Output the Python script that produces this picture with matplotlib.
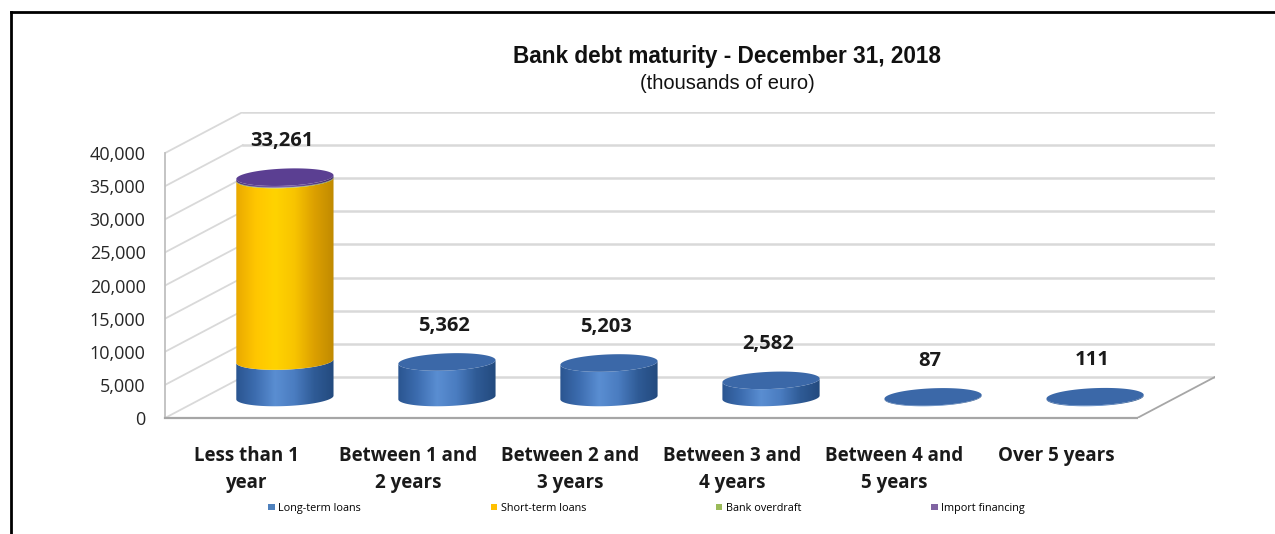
import numpy as np
import matplotlib.pyplot as plt
from matplotlib.patches import Polygon, Patch
from matplotlib.colors import LinearSegmentedColormap
from matplotlib.lines import Line2D

plt.rcParams['font.family'] = ['Open Sans', 'DejaVu Sans']

categories = ['Less than 1\nyear', 'Between 1 and\n2 years', 'Between 2 and\n3 years',
              'Between 3 and\n4 years', 'Between 4 and\n5 years', 'Over 5 years']
series_names = ['Long-term loans', 'Short-term loans', 'Bank overdraft', 'Import financing']
long_term = [5500, 5362, 5203, 2582, 87, 111]
short_term = [27411, 0, 0, 0, 0, 0]
overdraft = [100, 0, 0, 0, 0, 0]
import_fin = [250, 0, 0, 0, 0, 0]
yticks = [0, 5000, 10000, 15000, 20000, 25000, 30000, 35000, 40000]

# oblique "3d" look: floor depth in axis units, cylinder radius / ellipse size
DX, DY = 0.48, 6200
A, B, TILT = 0.30, 1300, 280

legend_cols = ['#4f81bd', '#ffc000', '#9bbb59', '#8064a2']
cmaps = [
    LinearSegmentedColormap.from_list('blue', ['#2a5590', '#3d6db0', '#5a8ed2', '#4a7cc0', '#2f5b96', '#234a7e']),
    LinearSegmentedColormap.from_list('yellow', ['#e9a900', '#ffc600', '#ffd300', '#f8c400', '#dca000', '#c08a00']),
    LinearSegmentedColormap.from_list('green', ['#7d9c3d', '#9bbb59', '#b3cf6f', '#8cab4b', '#6c8832']),
    LinearSegmentedColormap.from_list('purple', ['#4b3673', '#6a50a0', '#7d62b0', '#5d438c', '#412e66']),
]
cap_cols = ['#3b68a8', '#ffcc00', '#9bbb59', '#5b3f92']


def ellipse_pts(cx, cy, t):
    return np.column_stack([cx + A * np.cos(t), cy + B * np.sin(t) + TILT * np.cos(t)])


def draw_segment(ax, cx, y0, y1, cmap, z):
    t = np.linspace(np.pi, 2 * np.pi, 80)
    body = np.vstack([ellipse_pts(cx, y0, t), ellipse_pts(cx, y1, t[::-1])])
    poly = Polygon(body, closed=True, facecolor='none', edgecolor='none', zorder=z)
    ax.add_patch(poly)
    grad = np.linspace(0, 1, 256).reshape(1, -1)
    im = ax.imshow(grad, cmap=cmap, aspect='auto', interpolation='bicubic', zorder=z,
                   extent=(cx - A, cx + A, y0 - B - TILT, y1 + B + TILT))
    im.set_clip_path(poly)


fig = plt.figure(figsize=(12.75, 5.34), dpi=100)
ax = fig.add_axes([165 / 1275, 1 - 418 / 534, 1050 / 1275, 306 / 534])

# walls and floor
for v in yticks:
    ax.plot([-0.5 + DX, 5.5 + DX], [v + DY, v + DY], color='#d9d9d9', lw=1.8, zorder=1)
    ax.plot([-0.5, -0.5 + DX], [v, v + DY], color='#d9d9d9', lw=1.3, zorder=1)
ax.plot([5.5, 5.5 + DX], [0, DY], color='#a6a6a6', lw=1.3, zorder=1)

stack = [long_term, short_term, overdraft, import_fin]
for i in range(len(categories)):
    cx = i + DX / 2
    base = DY / 2
    top_series = 0
    for s, vals in enumerate(stack):
        if vals[i] <= 0:
            continue
        draw_segment(ax, cx, base, base + vals[i], cmaps[s], 3)
        base += vals[i]
        top_series = s
    cap = Polygon(ellipse_pts(cx, base, np.linspace(0, 2 * np.pi, 120)), closed=True,
                  facecolor=cap_cols[top_series], edgecolor='none', zorder=4)
    ax.add_patch(cap)
    total = sum(v[i] for v in stack)
    ax.annotate(f'{total:,}', (cx - 0.02, base + B), xytext=(0, 20), textcoords='offset points',
                ha='center', va='center', fontsize=14.5, fontweight='bold', color='#1a1a1a')

ax.set_xlim(-0.5, 5.5 + DX)
ax.set_ylim(0, 40000 + DY)
ax.set_yticks(yticks)
ax.set_yticklabels([f'{v:,}' for v in yticks])
ax.set_xticks(range(len(categories)))
ax.set_xticklabels(categories, fontweight='bold', linespacing=1.45)
ax.tick_params(axis='y', length=0, pad=14, labelsize=13, labelcolor='#262626')
ax.tick_params(axis='x', length=0, pad=20, labelsize=13.5, labelcolor='#1a1a1a')
for side in ['top', 'right']:
    ax.spines[side].set_visible(False)
ax.spines['left'].set_bounds(0, 40000)
ax.spines['left'].set_color('#bfbfbf')
ax.spines['left'].set_linewidth(1.3)
ax.spines['bottom'].set_bounds(-0.5, 5.5)
ax.spines['bottom'].set_color('#a6a6a6')
ax.spines['bottom'].set_linewidth(1.6)
ax.patch.set_alpha(0)

fig.text(727 / 1275, 1 - 57 / 534, 'Bank debt maturity - December 31, 2018', ha='center', va='center',
         family='Liberation Sans', fontweight='bold', fontsize=16.3, color='#111111')
fig.text(727 / 1275, 1 - 84 / 534, '(thousands of euro)', ha='center', va='center',
         family='Liberation Sans', fontsize=14.5, color='#111111')

handles = [Patch(facecolor=c, edgecolor='none') for c in legend_cols]
fig.legend(handles, series_names, loc='center', bbox_to_anchor=(0.507, 0.048), ncol=4,
           frameon=False, fontsize=7.8, handlelength=0.6, handleheight=0.6,
           handletextpad=0.3, columnspacing=12)

# frame lines along the left and top edges
fig.add_artist(Line2D([10.5 / 1275, 10.5 / 1275], [0, 1 - 12 / 534], color='black', lw=2))
fig.add_artist(Line2D([10.5 / 1275, 1], [1 - 12 / 534, 1 - 12 / 534], color='black', lw=2))

fig.savefig('out.png', dpi=100)
